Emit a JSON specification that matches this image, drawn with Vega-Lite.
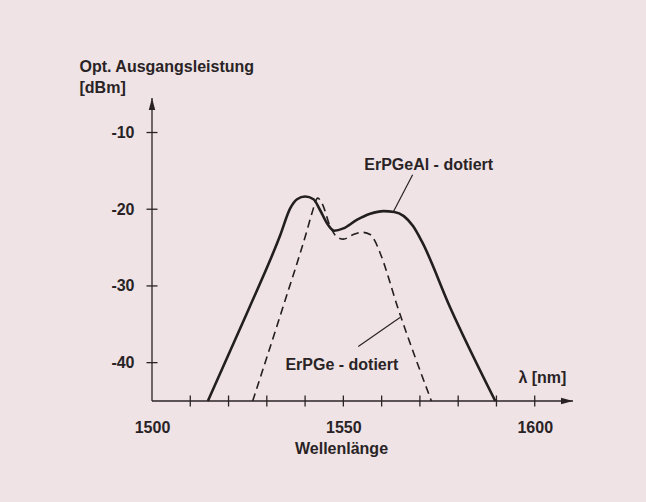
{
  "$schema": "https://vega.github.io/schema/vega-lite/v6.json",
  "width": 421,
  "height": 303,
  "autosize": "none",
  "padding": {"left": 152, "top": 98, "right": 73, "bottom": 101},
  "background": "#efe3e5",
  "config": {
    "view": {"stroke": null},
    "font": "Liberation Sans",
    "axis": {
      "labelFont": "Liberation Sans", "labelFontWeight": "bold", "labelFontSize": 16, "labelColor": "#2a2325",
      "titleFont": "Liberation Sans", "titleFontWeight": "bold", "titleFontSize": 16, "titleColor": "#2a2325"
    }
  },
  "datasets": {
    "curves": [
      {"series": "ErPGeAl", "wl": 1514.6, "dbm": -45},
      {"series": "ErPGeAl", "wl": 1525.2, "dbm": -33.1},
      {"series": "ErPGeAl", "wl": 1533.5, "dbm": -23.4},
      {"series": "ErPGeAl", "wl": 1536.1, "dbm": -19.9},
      {"series": "ErPGeAl", "wl": 1537.9, "dbm": -18.7},
      {"series": "ErPGeAl", "wl": 1540.0, "dbm": -18.35},
      {"series": "ErPGeAl", "wl": 1542.2, "dbm": -18.7},
      {"series": "ErPGeAl", "wl": 1543.9, "dbm": -20.1},
      {"series": "ErPGeAl", "wl": 1545.7, "dbm": -21.8},
      {"series": "ErPGeAl", "wl": 1547.6, "dbm": -22.8},
      {"series": "ErPGeAl", "wl": 1550.0, "dbm": -22.5},
      {"series": "ErPGeAl", "wl": 1553.5, "dbm": -21.4},
      {"series": "ErPGeAl", "wl": 1557.0, "dbm": -20.6},
      {"series": "ErPGeAl", "wl": 1560.5, "dbm": -20.25},
      {"series": "ErPGeAl", "wl": 1563.3, "dbm": -20.35},
      {"series": "ErPGeAl", "wl": 1565.8, "dbm": -20.9},
      {"series": "ErPGeAl", "wl": 1568.2, "dbm": -22.2},
      {"series": "ErPGeAl", "wl": 1570.5, "dbm": -24.2},
      {"series": "ErPGeAl", "wl": 1577.9, "dbm": -32.8},
      {"series": "ErPGeAl", "wl": 1589.7, "dbm": -45},
      {"series": "ErPGe", "wl": 1526.3, "dbm": -45},
      {"series": "ErPGe", "wl": 1534.0, "dbm": -33.1},
      {"series": "ErPGe", "wl": 1540.6, "dbm": -22.6},
      {"series": "ErPGe", "wl": 1541.8, "dbm": -20.5},
      {"series": "ErPGe", "wl": 1543.3, "dbm": -18.55},
      {"series": "ErPGe", "wl": 1544.4, "dbm": -19.2},
      {"series": "ErPGe", "wl": 1546.6, "dbm": -22.3},
      {"series": "ErPGe", "wl": 1548.3, "dbm": -23.6},
      {"series": "ErPGe", "wl": 1550.0, "dbm": -23.9},
      {"series": "ErPGe", "wl": 1552.6, "dbm": -23.3},
      {"series": "ErPGe", "wl": 1554.8, "dbm": -23.0},
      {"series": "ErPGe", "wl": 1557.0, "dbm": -23.3},
      {"series": "ErPGe", "wl": 1558.3, "dbm": -24.2},
      {"series": "ErPGe", "wl": 1559.6, "dbm": -25.7},
      {"series": "ErPGe", "wl": 1564.4, "dbm": -33.1},
      {"series": "ErPGe", "wl": 1573.0, "dbm": -45}
    ],
    "axislines": [
      {"wl": 1500, "dbm": -45, "wl2": 1610, "dbm2": -45},
      {"wl": 1500, "dbm": -45, "wl2": 1500, "dbm2": -5.5}
    ],
    "leaders": [
      {"id": "a", "wl": 1568.1, "dbm": -15.5},
      {"id": "a", "wl": 1563.1, "dbm": -20.3},
      {"id": "b", "wl": 1553.9, "dbm": -37.9},
      {"id": "b", "wl": 1564.8, "dbm": -34.1}
    ],
    "xticks": [
      {"wl": 1510, "dbm": -45}, {"wl": 1520, "dbm": -45}, {"wl": 1530, "dbm": -45},
      {"wl": 1540, "dbm": -45}, {"wl": 1550, "dbm": -45}, {"wl": 1560, "dbm": -45},
      {"wl": 1570, "dbm": -45}, {"wl": 1580, "dbm": -45}, {"wl": 1590, "dbm": -45},
      {"wl": 1600, "dbm": -45}
    ],
    "yticks": [
      {"wl": 1500, "dbm": -10}, {"wl": 1500, "dbm": -20},
      {"wl": 1500, "dbm": -30}, {"wl": 1500, "dbm": -40}
    ],
    "labels": [
      {"wl": 1572.3, "dbm": -14.2, "text": "ErPGeAl - dotiert"},
      {"wl": 1549.6, "dbm": -40.3, "text": "ErPGe - dotiert"},
      {"wl": 1602.0, "dbm": -42.0, "text": "λ [nm]"}
    ]
  },
  "encoding": {
    "x": {
      "field": "wl", "type": "quantitative",
      "scale": {"domain": [1500, 1610], "nice": false, "zero": false},
      "axis": {
        "values": [1500, 1550, 1600], "labelExpr": "'' + datum.value",
        "domain": false, "ticks": false, "tickSize": 0, "grid": false,
        "labelPadding": 18, "labelFlush": false,
        "title": "Wellenlänge", "titleX": 189, "titleY": 47, "titleBaseline": "middle", "titleAlign": "center"
      }
    },
    "y": {
      "field": "dbm", "type": "quantitative",
      "scale": {"domain": [-45, -5.5], "nice": false, "zero": false},
      "axis": {
        "values": [-10, -20, -30, -40], "labelExpr": "'' + datum.value",
        "domain": false, "ticks": false, "tickSize": 0, "grid": false,
        "labelPadding": 18,
        "title": ["Opt. Ausgangsleistung", "[dBm]"], "titleAngle": 0, "titleAlign": "left",
        "titleBaseline": "alphabetic", "titleX": -73, "titleY": -27, "titleLineHeight": 21
      }
    }
  },
  "layer": [
    {
      "data": {"name": "axislines"},
      "mark": {"type": "rule", "color": "#2a2325", "strokeWidth": 1.3},
      "encoding": {"x2": {"field": "wl2"}, "y2": {"field": "dbm2"}}
    },
    {
      "data": {"name": "xticks"},
      "mark": {"type": "tick", "orient": "vertical", "size": 11, "thickness": 1.3, "color": "#2a2325", "opacity": 1}
    },
    {
      "data": {"name": "yticks"},
      "mark": {"type": "tick", "orient": "horizontal", "size": 11, "thickness": 1.3, "color": "#2a2325", "opacity": 1}
    },
    {
      "data": {"values": [{"wl": 1500, "dbm": -5.5}]},
      "mark": {"type": "point", "shape": "M0,0L-0.27,1L0.27,1Z", "size": 576, "filled": true, "color": "#2a2325", "opacity": 1}
    },
    {
      "data": {"values": [{"wl": 1610, "dbm": -45}]},
      "mark": {"type": "point", "shape": "M0,0L-1,-0.27L-1,0.27Z", "size": 576, "filled": true, "color": "#2a2325", "opacity": 1}
    },
    {
      "data": {"name": "curves"},
      "transform": [{"filter": "datum.series === 'ErPGeAl'"}],
      "mark": {"type": "line", "interpolate": "monotone", "color": "#231e20", "strokeWidth": 2.6}
    },
    {
      "data": {"name": "curves"},
      "transform": [{"filter": "datum.series === 'ErPGe'"}],
      "mark": {"type": "line", "interpolate": "monotone", "color": "#231e20", "strokeWidth": 1.6, "strokeDash": [8, 5]}
    },
    {
      "data": {"name": "leaders"},
      "mark": {"type": "line", "color": "#2a2325", "strokeWidth": 1.2},
      "encoding": {"detail": {"field": "id"}, "order": {"field": "dbm", "type": "quantitative"}}
    },
    {
      "data": {"name": "labels"},
      "mark": {"type": "text", "font": "Liberation Sans", "fontWeight": "bold", "fontSize": 16, "color": "#2a2325", "align": "center", "baseline": "middle"},
      "encoding": {"text": {"field": "text"}}
    }
  ]
}
